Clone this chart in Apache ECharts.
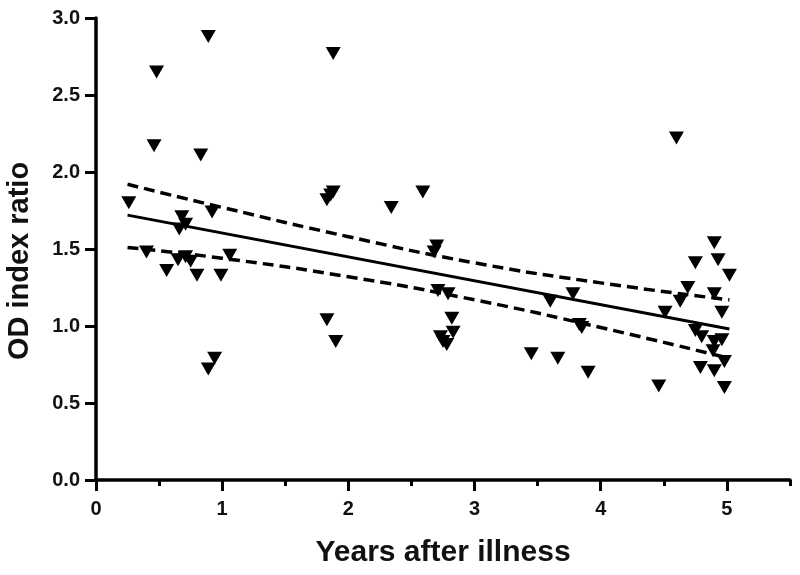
<!DOCTYPE html>
<html>
<head>
<meta charset="utf-8">
<script src="https://cdn.jsdelivr.net/npm/echarts@6/dist/echarts.min.js"></script>
<style>html,body{margin:0;padding:0;background:#fff;}#c{width:800px;height:575px;}</style>
</head>
<body>
<div id="c"></div>
<script>
// Observed points: [years after illness, OD index ratio]
const points = [
  [0.26,1.80],[0.40,1.48],[0.48,2.65],[0.46,2.17],[0.56,1.36],[0.65,1.43],[0.66,1.63],
  [0.68,1.71],[0.71,1.66],[0.71,1.45],[0.75,1.42],[0.80,1.33],[0.83,2.11],[0.89,2.88],
  [0.92,1.74],[0.89,0.72],[0.94,0.79],[0.99,1.33],[1.06,1.46],
  [1.83,1.82],[1.86,1.85],[1.88,1.87],[1.88,2.77],[1.83,1.04],[1.90,0.90],[2.34,1.77],[2.59,1.87],
  [2.70,1.52],[2.68,1.48],[2.71,1.23],[2.79,1.21],[2.82,1.05],[2.83,0.96],[2.73,0.93],[2.75,0.90],[2.78,0.88],
  [3.45,0.82],[3.60,1.16],[3.66,0.79],[3.78,1.21],[3.83,1.01],[3.85,0.99],[3.90,0.70],
  [4.46,0.61],[4.51,1.09],[4.60,2.22],[4.63,1.16],[4.69,1.25],[4.75,1.41],[4.75,0.97],
  [4.80,0.93],[4.79,0.73],[4.89,0.84],[4.90,1.54],[4.90,1.21],[4.90,0.90],[4.90,0.71],
  [4.93,1.43],[4.96,1.09],[4.96,0.91],[4.98,0.77],[4.98,0.60],[5.02,1.33]
];
// Regression line
const fitLine = [[0.25,1.72],[5.02,0.98]];
// 95% confidence band
const bandUpper = [[0.25,1.92],[1,1.77],[2,1.58],[3,1.41],[4,1.28],[5.02,1.17]];
const bandLower = [[0.25,1.51],[1,1.44],[2,1.32],[3,1.17],[4,0.99],[5.02,0.79]];
const xMajorTicks = [0,1,2,3,4,5];
const xTitle = 'Years after illness';
const yTitle = 'OD index ratio';

const font = '"Liberation Sans", Arial, sans-serif';
const chart = echarts.init(document.getElementById('c'), null, {renderer:'canvas'});
chart.setOption({
  animation:false,
  backgroundColor:'#fff',
  grid:{left:96, right:10, top:18, bottom:95, containLabel:false, outerBoundsMode:'none'},
  xAxis:[{
    type:'value', min:0, max:5.5, interval:0.5, position:'bottom',
    axisLine:{show:true, onZero:false, lineStyle:{color:'#000', width:3.5}},
    axisTick:{show:true, length:6, lineStyle:{color:'#000', width:3}},
    axisLabel:{show:false},
    splitLine:{show:false}
  },{
    type:'value', min:0, max:5.5, interval:0.5, position:'bottom',
    name:xTitle, nameLocation:'middle', nameGap:58,
    nameTextStyle:{fontFamily:font, fontWeight:'bold', fontSize:30, color:'#111'},
    axisLine:{show:false, onZero:false},
    axisTick:{show:true, length:11, customValues:xMajorTicks, lineStyle:{color:'#000', width:3}},
    axisLabel:{margin:19, fontFamily:font, fontWeight:'bold', fontSize:20, color:'#111',
      customValues:xMajorTicks, formatter:v => String(v)},
    splitLine:{show:false}
  }],
  yAxis:{
    type:'value', min:0, max:3, interval:0.5,
    name:yTitle, nameLocation:'middle', nameGap:62,
    nameTextStyle:{fontFamily:font, fontWeight:'bold', fontSize:29, color:'#111', padding:[0,24,0,0]},
    axisLine:{show:true, lineStyle:{color:'#000', width:3.5}},
    axisTick:{show:true, length:11, lineStyle:{color:'#000', width:3}},
    axisLabel:{margin:16, fontFamily:font, fontWeight:'bold', fontSize:20, color:'#111',
      formatter:v => v.toFixed(1)},
    splitLine:{show:false}
  },
  series:[
    {type:'line', data:bandUpper, smooth:true, symbol:'none',
      lineStyle:{color:'#000', width:3.5, type:[11,6]}, z:2},
    {type:'line', data:bandLower, smooth:true, symbol:'none',
      lineStyle:{color:'#000', width:3.5, type:[11,6]}, z:2},
    {type:'line', data:fitLine, symbol:'none',
      lineStyle:{color:'#000', width:3}, z:2},
    {type:'scatter', data:points, symbol:'triangle', symbolRotate:180,
      symbolSize:[15,13], itemStyle:{color:'#000', opacity:1}, z:3}
  ]
});
</script>
</body>
</html>
